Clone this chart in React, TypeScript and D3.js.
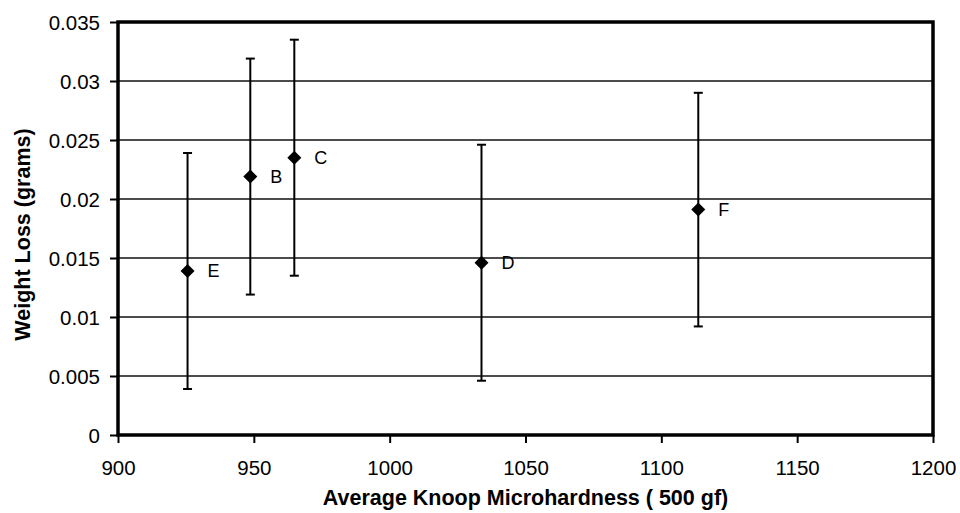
import React, { useEffect, useRef } from 'react'
import * as d3 from 'd3'

// samples
const sampleLabels = ['E', 'B', 'C', 'D', 'F']
const hardness = [925.6, 948.7, 964.9, 1033.8, 1113.6]
const weightLoss = [0.0139, 0.0219, 0.0235, 0.0146, 0.0191]
const errUp = [0.01, 0.01, 0.01, 0.01, 0.0099]
const errDown = [0.01, 0.01, 0.01, 0.01, 0.0099]

const xTicks = [900, 950, 1000, 1050, 1100, 1150, 1200]
const yTicks = [0, 0.005, 0.01, 0.015, 0.02, 0.025, 0.03, 0.035]

const W = 960
const H = 513
const FONT = 'Arial, "Liberation Sans", Helvetica, sans-serif'

export default function App() {
  const ref = useRef<SVGSVGElement>(null)

  useEffect(() => {
    if (!ref.current) return
    const svg = d3.select(ref.current)
    svg.selectAll('*').remove()

    const left = 118, right = 933, top = 22, bottom = 435
    const x = d3.scaleLinear().domain([900, 1200]).range([left, right])
    const y = d3.scaleLinear().domain([0, 0.035]).range([bottom, top])

    // gridlines
    svg.append('g')
      .selectAll('line')
      .data(yTicks.filter(t => t > 0 && t < 0.035))
      .enter()
      .append('line')
      .attr('x1', left)
      .attr('x2', right)
      .attr('y1', d => y(d))
      .attr('y2', d => y(d))
      .attr('stroke', '#111')
      .attr('stroke-width', 1.4)

    // frame
    svg.append('rect')
      .attr('x', left)
      .attr('y', top)
      .attr('width', right - left)
      .attr('height', bottom - top)
      .attr('fill', 'none')
      .attr('stroke', '#000')
      .attr('stroke-width', 3.5)

    // y axis
    const yAxis = svg.append('g')
      .attr('transform', `translate(${left},0)`)
      .call(d3.axisLeft(y).tickValues(yTicks).tickSize(8).tickPadding(10).tickFormat(d => String(+d)))
    yAxis.select('.domain').remove()
    yAxis.selectAll('line').attr('stroke', '#000').attr('stroke-width', 2)
    yAxis.selectAll('text')
      .attr('fill', '#000')
      .attr('dy', '0.36em')
      .style('font-family', FONT)
      .style('font-size', '20.5px')

    // x axis
    const xAxis = svg.append('g')
      .attr('transform', `translate(0,${bottom})`)
      .call(d3.axisBottom(x).tickValues(xTicks).tickSize(8).tickPadding(22).tickFormat(d => String(d)))
    xAxis.select('.domain').remove()
    xAxis.selectAll('line').attr('stroke', '#000').attr('stroke-width', 2)
    xAxis.selectAll('text')
      .attr('fill', '#000')
      .attr('dy', '0.5em')
      .style('font-family', FONT)
      .style('font-size', '20.5px')

    // axis titles
    svg.append('text')
      .attr('x', (left + right) / 2)
      .attr('y', 505)
      .attr('text-anchor', 'middle')
      .style('font-family', FONT)
      .style('font-size', '21.5px')
      .style('font-weight', 'bold')
      .text('Average Knoop Microhardness ( 500 gf)')

    svg.append('text')
      .attr('transform', `translate(30,${(top + bottom) / 2 + 6}) rotate(-90)`)
      .attr('text-anchor', 'middle')
      .style('font-family', FONT)
      .style('font-size', '21.5px')
      .style('font-weight', 'bold')
      .text('Weight Loss (grams)')

    const pts = sampleLabels.map((name, i) => ({
      name, hx: hardness[i], wl: weightLoss[i], up: errUp[i], dn: errDown[i]
    }))

    // error bars
    const bars = svg.append('g').attr('stroke', '#000').attr('stroke-width', 2)
    pts.forEach(p => {
      const cx = x(p.hx)
      bars.append('line')
        .attr('x1', cx).attr('x2', cx)
        .attr('y1', y(p.wl + p.up)).attr('y2', y(p.wl - p.dn))
      bars.append('line')
        .attr('x1', cx - 4.5).attr('x2', cx + 4.5)
        .attr('y1', y(p.wl + p.up)).attr('y2', y(p.wl + p.up))
      bars.append('line')
        .attr('x1', cx - 4.5).attr('x2', cx + 4.5)
        .attr('y1', y(p.wl - p.dn)).attr('y2', y(p.wl - p.dn))
    })

    // diamond markers
    const diamond = d3.symbol().type(d3.symbolDiamond2).size(125)
    svg.append('g')
      .selectAll('path')
      .data(pts)
      .enter()
      .append('path')
      .attr('d', diamond as any)
      .attr('transform', d => `translate(${x(d.hx)},${y(d.wl)})`)
      .attr('fill', '#000')

    // point labels
    svg.append('g')
      .selectAll('text')
      .data(pts)
      .enter()
      .append('text')
      .attr('x', d => x(d.hx) + 20)
      .attr('y', d => y(d.wl) + 6.5)
      .style('font-family', FONT)
      .style('font-size', '18px')
      .attr('fill', '#000')
      .text(d => d.name)
  }, [])

  return (
    <div style={{ position: 'absolute', left: 0, top: 0 }}>
      <svg ref={ref} width={W} height={H} style={{ display: 'block', background: '#fff' }} />
    </div>
  )
}
